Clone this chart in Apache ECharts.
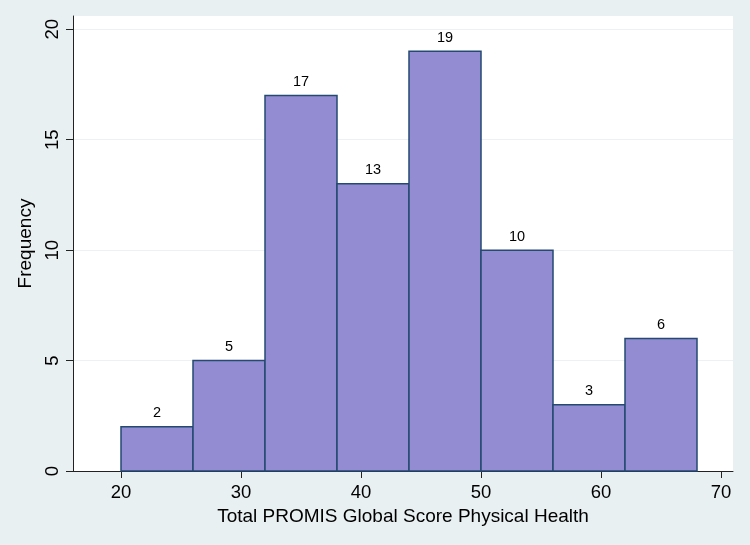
<!DOCTYPE html>
<html>
<head>
<meta charset="utf-8">
<script src="https://cdn.jsdelivr.net/npm/echarts@6/dist/echarts.min.js"></script>
<style>
html,body{margin:0;padding:0;background:#E9F0F2;}
#chart{width:750px;height:545px;}
</style>
</head>
<body>
<div id="chart"></div>
<script>
const binEdges = [20, 26, 32, 38, 44, 50, 56, 62, 68];
const frequencies = [2, 5, 17, 13, 19, 10, 3, 6];
const xTicks = [20, 30, 40, 50, 60, 70];
const yTicks = [0, 5, 10, 15, 20];
const xTitle = 'Total PROMIS Global Score Physical Health';
const yTitle = 'Frequency';

const data = frequencies.map((f, i) => [binEdges[i], binEdges[i + 1], f]);
const font = '"Liberation Sans", Arial, Helvetica, sans-serif';

const chart = echarts.init(document.getElementById('chart'));
chart.setOption({
  backgroundColor: '#E9F0F2',
  animation: false,
  grid: {
    left: 73, right: 17, top: 16, bottom: 74,
    show: true, backgroundColor: '#ffffff', borderWidth: 0
  },
  xAxis: {
    type: 'value', min: 16, max: 71,
    name: xTitle, nameLocation: 'middle', nameGap: 32,
    nameTextStyle: { fontFamily: font, fontSize: 19, color: '#000' },
    axisLine: { show: true, onZero: false, lineStyle: { color: '#222', width: 1 } },
    axisTick: { show: true, length: 7, customValues: xTicks, lineStyle: { color: '#222' } },
    axisLabel: { customValues: xTicks, margin: 12, fontFamily: font, fontSize: 18.5, color: '#000' },
    splitLine: { show: false }
  },
  yAxis: {
    type: 'value', min: 0, max: 20.6, interval: 5,
    name: yTitle, nameLocation: 'middle', nameGap: 31, nameRotate: 90,
    nameTextStyle: { fontFamily: font, fontSize: 19, color: '#000' },
    axisLine: { show: true, lineStyle: { color: '#222', width: 1 } },
    axisTick: { show: true, length: 7, customValues: yTicks, lineStyle: { color: '#222' } },
    axisLabel: { customValues: yTicks, rotate: 90, margin: 11, fontFamily: font, fontSize: 18.5, color: '#000' },
    splitLine: { show: true, lineStyle: { color: '#EAF2F3', width: 1 } }
  },
  series: [{
    type: 'custom',
    data: data,
    encode: { x: [0, 1], y: 2 },
    renderItem: function (params, api) {
      const p0 = api.coord([api.value(0), 0]);
      const p1 = api.coord([api.value(1), api.value(2)]);
      return {
        type: 'group',
        children: [{
          type: 'rect',
          shape: { x: p0[0], y: p1[1], width: p1[0] - p0[0], height: p0[1] - p1[1] },
          style: { fill: '#938CD2', stroke: '#244A72', lineWidth: 1.5 }
        }, {
          type: 'text',
          x: (p0[0] + p1[0]) / 2,
          y: p1[1] - 6,
          style: {
            text: String(api.value(2)),
            align: 'center', verticalAlign: 'bottom',
            fontFamily: font, fontSize: 14.5, fill: '#000'
          }
        }]
      };
    }
  }]
});
</script>
</body>
</html>
